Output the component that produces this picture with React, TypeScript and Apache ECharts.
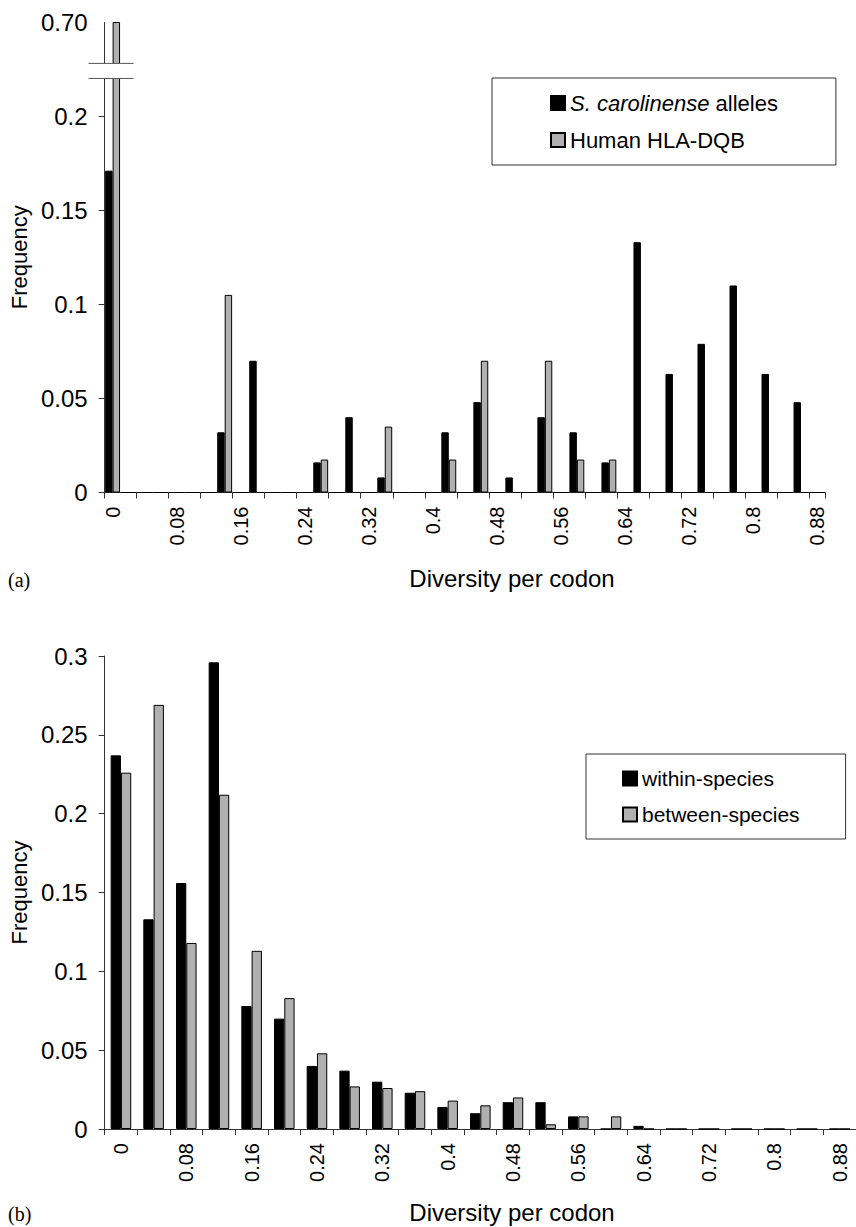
import React, { useEffect, useRef } from "react";
import * as echarts from "echarts";

// ---------- data: panel (a) ----------
const catsA = [
  "0", "0.02", "0.04", "0.06", "0.08", "0.1", "0.12", "0.14", "0.16", "0.18",
  "0.2", "0.22", "0.24", "0.26", "0.28", "0.3", "0.32", "0.34", "0.36", "0.38",
  "0.4", "0.42", "0.44", "0.46", "0.48", "0.5", "0.52", "0.54", "0.56", "0.58",
  "0.6", "0.62", "0.64", "0.66", "0.68", "0.7", "0.72", "0.74", "0.76", "0.78",
  "0.8", "0.82", "0.84", "0.86", "0.88",
];
const sCarolinense = [
  0.171, 0, 0, 0, 0,
  0, 0, 0.032, 0, 0.070,
  0, 0, 0, 0.016, 0,
  0.040, 0, 0.008, 0, 0,
  0, 0.032, 0, 0.048, 0,
  0.008, 0, 0.040, 0, 0.032,
  0, 0.016, 0, 0.133, 0,
  0.063, 0, 0.079, 0, 0.110,
  0, 0.063, 0, 0.048, 0,
];
const humanHLA = [
  0.70, 0, 0, 0, 0,
  0, 0, 0.105, 0, 0,
  0, 0, 0, 0.0175, 0,
  0, 0, 0.035, 0, 0,
  0, 0.0175, 0, 0.070, 0,
  0, 0, 0.070, 0, 0.0175,
  0, 0.0175, 0, 0, 0,
  0, 0, 0, 0, 0,
  0, 0, 0, 0, 0,
];
const yLabelsA = [0, 0.05, 0.1, 0.15, 0.2, 0.7];
const yTicksA = [0, 0.05, 0.1, 0.15, 0.2];
const breakA = { start: 0.22, end: 0.678, gap: 0.008 };

// ---------- data: panel (b) ----------
const catsB = [
  "0", "0.04", "0.08", "0.12", "0.16", "0.2", "0.24", "0.28", "0.32", "0.36",
  "0.4", "0.44", "0.48", "0.52", "0.56", "0.6", "0.64", "0.68", "0.72", "0.76",
  "0.8", "0.84", "0.88",
];
const withinSpecies = [
  0.237, 0.133, 0.156, 0.296, 0.078,
  0.070, 0.040, 0.037, 0.030, 0.023,
  0.014, 0.010, 0.017, 0.017, 0.008,
  0, 0.002, 0, 0, 0,
  0, 0, 0,
];
const betweenSpecies = [
  0.226, 0.269, 0.118, 0.212, 0.113,
  0.083, 0.048, 0.027, 0.026, 0.024,
  0.018, 0.015, 0.020, 0.003, 0.008,
  0.008, 0, 0, 0, 0,
  0, 0, 0,
];

const SANS = '"Liberation Sans", Arial, Helvetica, sans-serif';
const SERIF = '"Liberation Serif", "Times New Roman", serif';
const GREY = "#b0b0b0";

function App() {
  const ref = useRef<HTMLDivElement | null>(null);

  useEffect(() => {
    if (!ref.current) return;
    const chart = echarts.init(ref.current, null, { renderer: "svg" });

    const axisLineStyle = { color: "#333", width: 1 };
    const xLabel = { rotate: 90, fontSize: 20, fontFamily: SANS, color: "#000", margin: 14 };
    const yLabel = { fontSize: 24, fontFamily: SANS, color: "#000", margin: 17 };

    const txt = (id: string, text: string, x: number, y: number, font: string, align: string) => ({
      id,
      type: "text",
      x,
      y,
      style: { text, font, fill: "#000", textAlign: align, textVerticalAlign: "middle", align, verticalAlign: "middle" },
    });
    const titleEls = [
      txt("xa", "Diversity per codon", 512, 578, `24px ${SANS}`, "center"),
      txt("la", "(a)", 8, 580, `20px ${SERIF}`, "left"),
      txt("xb", "Diversity per codon", 512, 1212, `24px ${SANS}`, "center"),
      txt("lb", "(b)", 8, 1214, `20px ${SERIF}`, "left"),
    ];

    const legendBase = {
      orient: "vertical",
      icon: "rect",
      itemWidth: 14,
      itemHeight: 14,
      itemGap: 15,
      selectedMode: false,
      backgroundColor: "#fff",
      borderColor: "#333",
      borderWidth: 1,
      borderRadius: 0,
    };
    const legendText = (size: number) => ({
      fontSize: size,
      fontFamily: SANS,
      color: "#000",
      rich: { i: { fontStyle: "italic", fontSize: size, fontFamily: SANS, color: "#000" } },
    });

    const option: any = {
      animation: false,
      backgroundColor: "#fff",
      textStyle: { fontFamily: SANS },
      grid: [
        { left: 101.5, top: 22, width: 723.5, height: 470.5, containLabel: false },
        { left: 102, top: 656, width: 759.7, height: 473, containLabel: false },
      ],
      legend: [
        {
          ...legendBase,
          data: ["S. carolinense alleles", "Human HLA-DQB"],
          left: 492,
          top: 78,
          padding: [14, 58, 14, 58],
          textStyle: legendText(22),
          formatter: (name: string) =>
            name === "S. carolinense alleles" ? "{i|S. carolinense} alleles" : name,
        },
        {
          ...legendBase,
          data: ["within-species", "between-species"],
          left: 586,
          top: 754,
          padding: [14, 46, 14, 36],
          textStyle: legendText(21),
        },
      ],
      xAxis: [
        {
          type: "category",
          gridIndex: 0,
          data: catsA,
          boundaryGap: true,
          axisLine: { lineStyle: axisLineStyle },
          axisTick: { show: true, interval: 1, length: 6, lineStyle: axisLineStyle },
          axisLabel: { ...xLabel, interval: 3 },
          splitLine: { show: false },
        },
        {
          type: "category",
          gridIndex: 1,
          data: catsB,
          boundaryGap: true,
          axisLine: { lineStyle: axisLineStyle },
          axisTick: { show: true, interval: 0, length: 6, lineStyle: axisLineStyle },
          axisLabel: { ...xLabel, interval: 1 },
          splitLine: { show: false },
        },
      ],
      yAxis: [
        {
          type: "value",
          gridIndex: 0,
          min: 0,
          max: 0.7,
          interval: 0.05,
          breaks: [{ start: breakA.start, end: breakA.end, gap: breakA.gap }],
          breakArea: { show: false },
          name: "Frequency",
          nameLocation: "middle",
          nameRotate: 90,
          nameGap: 72,
          nameTextStyle: { fontSize: 22, fontFamily: SANS, color: "#000" },
          axisLine: { show: true, lineStyle: axisLineStyle },
          axisTick: { show: true, length: 6, lineStyle: axisLineStyle, customValues: yTicksA },
          axisLabel: {
            ...yLabel,
            customValues: yLabelsA,
            showMinLabel: true,
            showMaxLabel: true,
            hideOverlap: false,
            formatter: (v: number) => {
              const r = Math.round(v * 100) / 100;
              return r === 0.7 ? "0.70" : String(r);
            },
          },
          splitLine: { show: false },
        },
        {
          type: "value",
          gridIndex: 1,
          min: 0,
          max: 0.3,
          interval: 0.05,
          name: "Frequency",
          nameLocation: "middle",
          nameRotate: 90,
          nameGap: 72,
          nameTextStyle: { fontSize: 22, fontFamily: SANS, color: "#000" },
          axisLine: { show: true, lineStyle: axisLineStyle },
          axisTick: { show: true, length: 6, lineStyle: axisLineStyle },
          axisLabel: {
            ...yLabel,
            formatter: (v: number) => String(Math.round(v * 100) / 100),
          },
          splitLine: { show: false },
        },
      ],
      series: [
        {
          name: "S. carolinense alleles",
          type: "bar",
          xAxisIndex: 0,
          yAxisIndex: 0,
          data: sCarolinense,
          barGap: "0%",
          barCategoryGap: "7%",
          itemStyle: { color: "#000", borderColor: "#000", borderWidth: 1 },
        },
        {
          name: "Human HLA-DQB",
          type: "bar",
          xAxisIndex: 0,
          yAxisIndex: 0,
          data: humanHLA,
          barGap: "0%",
          barCategoryGap: "7%",
          itemStyle: { color: GREY, borderColor: "#000", borderWidth: 1 },
        },
        {
          name: "within-species",
          type: "bar",
          xAxisIndex: 1,
          yAxisIndex: 1,
          data: withinSpecies,
          barGap: "0%",
          barCategoryGap: "37%",
          itemStyle: { color: "#000", borderColor: "#000", borderWidth: 1 },
        },
        {
          name: "between-species",
          type: "bar",
          xAxisIndex: 1,
          yAxisIndex: 1,
          data: betweenSpecies,
          barGap: "0%",
          barCategoryGap: "37%",
          itemStyle: { color: GREY, borderColor: "#000", borderWidth: 1 },
        },
      ],
      graphic: titleEls,
    };

    chart.setOption(option);

    // axis-break marker drawn where the library places the break
    try {
      const yLow = chart.convertToPixel({ yAxisIndex: 0 }, breakA.start) as number;
      const yHigh = chart.convertToPixel({ yAxisIndex: 0 }, breakA.end) as number;
      if (isFinite(yLow) && isFinite(yHigh)) {
        const top = Math.min(yLow, yHigh);
        const bot = Math.max(yLow, yHigh);
        const axisX = 101.5;
        chart.setOption({
          graphic: [
            ...titleEls,
            {
              id: "brk",
              type: "group",
              z: 100,
              children: [
                { type: "rect", shape: { x: axisX - 14, y: top, width: 46, height: bot - top }, style: { fill: "#fff" }, z: 100 },
                { type: "line", shape: { x1: axisX - 13, y1: top, x2: axisX + 32, y2: top }, style: { stroke: "#555", lineWidth: 1 }, z: 101 },
                { type: "line", shape: { x1: axisX - 13, y1: bot, x2: axisX + 32, y2: bot }, style: { stroke: "#555", lineWidth: 1 }, z: 101 },
              ],
            },
          ],
        });
      }
    } catch (e) {
      // ignore
    }

    return () => {
      chart.dispose();
    };
  }, []);

  return (
    <div
      ref={ref}
      style={{ position: "fixed", left: 0, top: 0, width: 856, height: 1227, background: "#fff" }}
    />
  );
}

export default App;
